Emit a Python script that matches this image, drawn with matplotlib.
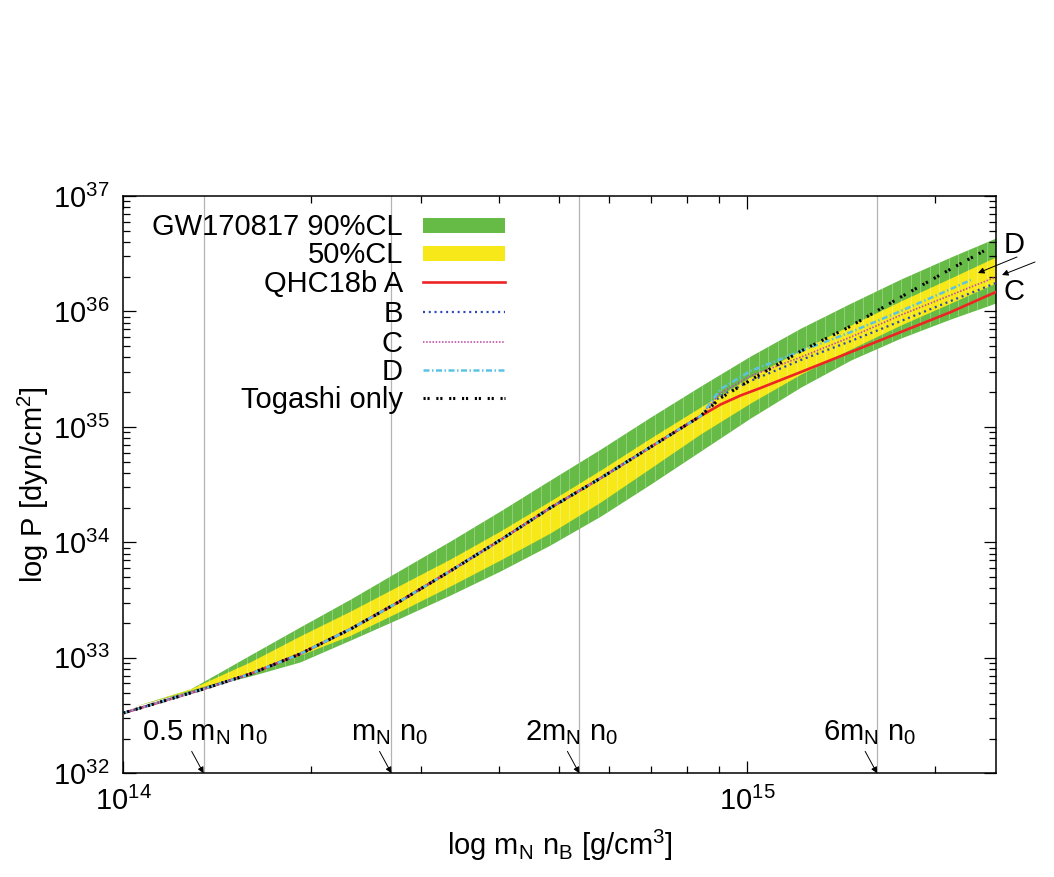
import numpy as np
import matplotlib
matplotlib.use("Agg")
import matplotlib.pyplot as plt
from matplotlib.ticker import LogLocator, NullFormatter, LogFormatterMathtext

plt.rcParams['font.family'] = ['Liberation Sans', 'DejaVu Sans']
plt.rcParams['mathtext.fontset'] = 'custom'
plt.rcParams['mathtext.rm'] = 'Liberation Sans'
plt.rcParams['mathtext.it'] = 'Liberation Sans:italic'
plt.rcParams['mathtext.bf'] = 'Liberation Sans:bold'
plt.rcParams['mathtext.sf'] = 'Liberation Sans'

# ---------------- data (log10 values) ----------------
# GW170817 bands: log10(rho [g/cm^3]) and log10(P [dyn/cm^2])
band_logx = [14.019, 14.107, 14.203, 14.283, 14.364, 14.444, 14.524, 14.604, 14.684,
             14.765, 14.845, 14.925, 15.005, 15.086, 15.166, 15.246, 15.326, 15.398]
cl90_upper = [32.583, 32.730, 33.024, 33.267, 33.509, 33.761, 34.012, 34.272, 34.540,
              34.809, 35.086, 35.354, 35.614, 35.857, 36.073, 36.281, 36.472, 36.636]
cl50_upper = [32.583, 32.730, 32.964, 33.189, 33.405, 33.631, 33.856, 34.098, 34.358,
              34.627, 34.904, 35.172, 35.432, 35.666, 35.883, 36.091, 36.290, 36.472]
cl50_lower = [32.583, 32.721, 32.868, 33.024, 33.195, 33.405, 33.622, 33.847, 34.081,
              34.350, 34.644, 34.939, 35.207, 35.458, 35.675, 35.883, 36.073, 36.246]
cl90_lower = [32.583, 32.712, 32.842, 32.964, 33.154, 33.345, 33.544, 33.752, 33.977,
              34.228, 34.505, 34.791, 35.077, 35.346, 35.580, 35.770, 35.935, 36.073]

# common low-density part of all EoS (Togashi)
common_logx = [14.000, 14.043, 14.123, 14.203, 14.283, 14.364, 14.444, 14.524,
               14.604, 14.684, 14.765, 14.845, 14.925]
common_logp = [32.522, 32.591, 32.721, 32.860, 33.033, 33.249, 33.492, 33.752,
               34.020, 34.298, 34.557, 34.826, 35.094]

# high-density parts
A_logx = [14.957, 14.989, 15.021, 15.086, 15.166, 15.246, 15.326, 15.398]
A_logp = [35.194, 35.272, 35.337, 35.476, 35.649, 35.822, 35.995, 36.168]
B_logx = [14.957, 15.005, 15.086, 15.166, 15.246, 15.326, 15.398]
B_logp = [35.268, 35.398, 35.580, 35.744, 35.917, 36.091, 36.246]
C_logx = [14.957, 15.005, 15.086, 15.166, 15.246, 15.326, 15.398]
C_logp = [35.294, 35.441, 35.605, 35.779, 35.969, 36.142, 36.298]
D_logx = [14.957, 15.005, 15.086, 15.166, 15.246, 15.326, 15.358]
D_logp = [35.328, 35.484, 35.657, 35.822, 36.004, 36.194, 36.272]
T_logx = [14.957, 15.005, 15.086, 15.166, 15.246, 15.326, 15.379]
T_logp = [35.250, 35.406, 35.657, 35.874, 36.125, 36.368, 36.524]

mN_n0 = 2.69e14                      # m_N n_0 [g/cm^3]
marker_factors = [0.5, 1, 2, 6]
marker_labels = [r'0.5 m$_\mathregular{N}$ n$_\mathregular{0}$',
                 r'm$_\mathregular{N}$ n$_\mathregular{0}$',
                 r'2m$_\mathregular{N}$ n$_\mathregular{0}$',
                 r'6m$_\mathregular{N}$ n$_\mathregular{0}$']

legend_labels = ['GW170817 90%CL', '50%CL', 'QHC18b A', 'B', 'C', 'D', 'Togashi only']

# ---------------- styles ----------------
GREEN = '#66bb46'
YELLOW = '#f6e819'
RED = '#ee2424'
BLUE = '#2c46b4'
MAGENTA = '#c24aa8'
CYAN = '#5cc3e4'
BLACK = '#000000'

FS = 21

fig = plt.figure(figsize=(10.54, 8.77), dpi=100)
ax = fig.add_axes([0.11698, 0.11824, 0.82770, 0.65827])

def p10(a):
    return 10.0 ** np.asarray(a)

bx = p10(band_logx)
poly90 = ax.fill_between(bx, p10(cl90_lower), p10(cl90_upper), color=GREEN, lw=0, zorder=1)
poly50 = ax.fill_between(bx, p10(cl50_lower), p10(cl50_upper), color=YELLOW, lw=0, zorder=1.1)

# faint vertical seams inside the bands (rendering artefact of the original)
for k in np.arange(14.0153, 15.40, 0.0152):
    for poly, z in ((poly90, 1.05), (poly50, 1.15)):
        ln = ax.axvline(10 ** k, color='white', alpha=0.28, lw=0.7, zorder=z)
        ln.set_clip_path(poly.get_paths()[0], ax.transData)

# vertical reference lines
for f in marker_factors:
    ax.axvline(f * mN_n0, color='#b4b4b4', lw=0.9, zorder=0.5)

def series(tx, tp):
    x = np.concatenate([common_logx, tx])
    y = np.concatenate([common_logp, tp])
    return p10(x), p10(y)

xa, ya = series(A_logx, A_logp)
xb, yb = series(B_logx, B_logp)
xc, yc = series(C_logx, C_logp)
xd, yd = series(D_logx, D_logp)
xt, yt = series(T_logx, T_logp)

sA = dict(color=RED, lw=1.9, ls='-')
sB = dict(color=BLUE, lw=1.6, ls=(0, (0.9, 1.7)))
sC = dict(color=MAGENTA, lw=1.2, ls=(0, (0.9, 1.0)))
sD = dict(color=CYAN, lw=1.8, ls=(0, (2.4, 1.0, 0.6, 1.0)))
sT = dict(color=BLACK, lw=2.2, ls=(0, (0.7, 0.6, 0.7, 2.2)))

ax.plot(xa, ya, zorder=3, **sA)
ax.plot(xb, yb, zorder=3.1, **sB)
ax.plot(xc, yc, zorder=3.2, **sC)
ax.plot(xd, yd, zorder=3.3, **sD)
ax.plot(xt, yt, zorder=3.4, **sT)

ax.set_xscale('log')
ax.set_yscale('log')
ax.set_xlim(1e14, 2.5e15)
ax.set_ylim(1e32, 1e37)

for axis in (ax.xaxis, ax.yaxis):
    axis.set_major_locator(LogLocator(base=10))
    axis.set_minor_locator(LogLocator(base=10, subs=np.arange(2, 10)))
    axis.set_minor_formatter(NullFormatter())
    axis.set_major_formatter(LogFormatterMathtext())

ax.tick_params(which='both', direction='in', top=True, right=True,
               labelsize=FS, width=0.9, colors='black')
ax.tick_params(which='major', length=9, pad=10)
ax.tick_params(which='minor', length=5)
for s in ax.spines.values():
    s.set_linewidth(1.1)

ax.set_xlabel(r'log m$_\mathregular{N}$ n$_\mathregular{B}$ [g/cm$^\mathregular{3}$]', fontsize=FS)
ax.set_ylabel(r'log P [dyn/cm$^\mathregular{2}$]', fontsize=FS)
ax.xaxis.set_label_coords(0.5, -0.094)
ax.yaxis.set_label_coords(-0.083, 0.5)

# density markers with arrows
text_logx = [14.030, 14.365, 14.644, 15.121]
for f, lab, tx in zip(marker_factors, marker_labels, text_logx):
    ax.annotate('', xy=(f * mN_n0, 1e32), xytext=(-8.6, 15.8), textcoords='offset points',
                arrowprops=dict(arrowstyle='-|>', color='black', lw=0.7,
                                mutation_scale=9, shrinkA=0, shrinkB=0), zorder=5)
    ax.text(10 ** tx, 10 ** 32.29, lab, fontsize=FS, ha='left', va='baseline', zorder=5)

# D / C labels at the right
def axc(px, py):
    return ((px - 123.3) / 872.4, (773.3 - py) / 577.3)

ax.text(*axc(1014, 253), 'D', transform=ax.transAxes, fontsize=FS, ha='center',
        va='baseline', clip_on=False)
ax.text(*axc(1014, 300), 'C', transform=ax.transAxes, fontsize=FS, ha='center',
        va='baseline', clip_on=False)
ax.annotate('', xy=axc(978, 273), xycoords='axes fraction', xytext=axc(1017, 257),
            textcoords='axes fraction', annotation_clip=False,
            arrowprops=dict(arrowstyle='-|>', color='black', lw=0.7, mutation_scale=9,
                            shrinkA=0, shrinkB=0))
ax.annotate('', xy=axc(1002, 275), xycoords='axes fraction', xytext=axc(1035, 262),
            textcoords='axes fraction', annotation_clip=False,
            arrowprops=dict(arrowstyle='-|>', color='black', lw=0.7, mutation_scale=9,
                            shrinkA=0, shrinkB=0))

# key (gnuplot style: label right-aligned, sample on the right)
rows = [225, 253, 282, 312, 342, 370, 398]
styles = [None, None, sA, sB, sC, sD, sT]
band_cols = [GREEN, YELLOW]
for i, (lab, py) in enumerate(zip(legend_labels, rows)):
    tx, ty = axc(403, py + 10)
    ax.text(tx, ty, lab, transform=ax.transAxes, fontsize=FS, ha='right', va='baseline', zorder=6)
    x0, yc0 = axc(423, py)
    x1, _ = axc(505, py)
    if i < 2:
        h = 15 / 577.3
        ax.add_patch(plt.Rectangle((x0, yc0 - h / 2), x1 - x0, h, transform=ax.transAxes,
                                   color=band_cols[i], lw=0, zorder=6))
    else:
        ax.plot([x0, x1], [yc0, yc0], transform=ax.transAxes, zorder=6, **styles[i])

fig.savefig('out.png', dpi=100)
